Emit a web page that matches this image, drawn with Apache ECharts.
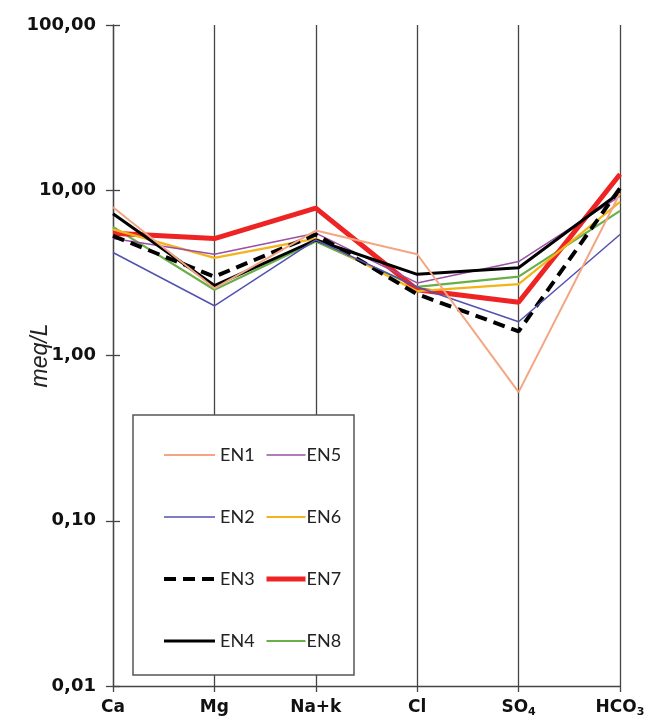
<!DOCTYPE html>
<html>
<head>
<meta charset="utf-8">
<script src="https://cdn.jsdelivr.net/npm/echarts@6/dist/echarts.min.js"></script>
<style>html,body{margin:0;padding:0;background:#fff;}#c{width:648px;height:724px;}</style>
</head>
<body>
<div id="c"></div>
<script>
var categories = ['Ca', 'Mg', 'Na+k', 'Cl', 'SO4', 'HCO3'];
var yTicks = [0.01, 0.1, 1, 10, 100];
var yTickLabels = ['0,01', '0,10', '1,00', '10,00', '100,00'];
var seriesNames = ['EN1', 'EN2', 'EN3', 'EN4', 'EN5', 'EN6', 'EN7', 'EN8'];
var EN1 = [7.9, 2.55, 5.7, 4.1, 0.6, 9.6];
var EN2 = [4.2, 2.0, 5.0, 2.6, 1.6, 5.4];
var EN3 = [5.3, 3.0, 5.4, 2.35, 1.4, 10.3];
var EN4 = [7.2, 2.65, 5.0, 3.1, 3.4, 9.7];
var EN5 = [5.1, 4.1, 5.5, 2.75, 3.7, 9.2];
var EN6 = [5.8, 3.9, 5.1, 2.45, 2.7, 8.5];
var EN7 = [5.5, 5.1, 7.8, 2.5, 2.1, 12.5];
var EN8 = [6.0, 2.5, 4.9, 2.6, 3.0, 7.5];
var values = [EN1, EN2, EN3, EN4, EN5, EN6, EN7, EN8];

var styles = [
  {color: '#F4A582', width: 2, type: 'solid'},
  {color: '#5252B0', width: 1.5, type: 'solid'},
  {color: '#000000', width: 4, type: [12, 7]},
  {color: '#000000', width: 3, type: 'solid'},
  {color: '#9B4FA6', width: 1.5, type: 'solid'},
  {color: '#F2B31B', width: 2.2, type: 'solid'},
  {color: '#EE2424', width: 5, type: 'solid'},
  {color: '#6AAE4A', width: 2.2, type: 'solid'}
];

var series = seriesNames.map(function (n, i) {
  return {
    name: n, type: 'line', data: values[i], symbol: 'none', showSymbol: false,
    z: 20 - i,
    lineStyle: {color: styles[i].color, width: styles[i].width, type: styles[i].type},
    itemStyle: {color: styles[i].color},
    emphasis: {disabled: true}, animation: false
  };
});

function legendItems(names) {
  return names.map(function (n) {
    var s = styles[seriesNames.indexOf(n)];
    return {name: n, lineStyle: {color: s.color, width: s.width, type: s.type}, itemStyle: {opacity: 0}};
  });
}

var legendText = {fontFamily: 'Lato', fontSize: 18, color: '#222', lineHeight: 16};
var chart = echarts.init(document.getElementById('c'));
chart.setOption({
  animation: false,
  backgroundColor: '#fff',
  grid: {left: 113, right: 28, top: 25, bottom: 38, containLabel: false, outerBoundsMode: 'none'},
  xAxis: {
    type: 'category', data: categories, boundaryGap: false,
    axisLine: {lineStyle: {color: '#444', width: 1.3}},
    axisTick: {show: true, length: 6, lineStyle: {color: '#444', width: 1.3}},
    splitLine: {show: true, lineStyle: {color: '#444', width: 1.3}},
    axisLabel: {
      margin: 12, interval: 0, hideOverlap: false,
      formatter: function (v) {
        var m = v.match(/^(.*?)(\d)$/);
        return m ? '{n|' + m[1] + '}{s|' + m[2] + '}' : '{n|' + v + '}';
      },
      rich: {
        n: {fontFamily: 'DejaVu Sans', fontWeight: 'bold', fontSize: 17, color: '#111', lineHeight: 20},
        s: {fontFamily: 'DejaVu Sans', fontWeight: 'bold', fontSize: 11, color: '#111', lineHeight: 11, verticalAlign: 'bottom'}
      }
    }
  },
  yAxis: [{
    type: 'log', logBase: 10, min: 0.01, max: 100,
    name: 'meq/L', nameLocation: 'middle', nameGap: 61, nameRotate: 90, nameMoveOverlap: false,
    nameTextStyle: {fontFamily: 'Liberation Sans', fontStyle: 'italic', fontSize: 23, color: '#222'},
    axisLine: {show: true, lineStyle: {color: '#444', width: 1.3}},
    axisTick: {show: true, length: 7, lineStyle: {color: '#444', width: 1.3}},
    splitLine: {show: false},
    axisLabel: {
      margin: 17, fontFamily: 'DejaVu Sans', fontWeight: 'bold', fontSize: 18, color: '#111',
      formatter: function (v) {
        for (var i = 0; i < yTicks.length; i++) {
          if (Math.abs(Math.log10(v) - Math.log10(yTicks[i])) < 1e-6) return yTickLabels[i];
        }
        return '';
      }
    }
  }, {
    type: 'log', logBase: 10, min: 0.01, max: 100, position: 'left',
    axisLine: {show: false},
    axisTick: {show: true, inside: true, length: 7, lineStyle: {color: '#444', width: 1.3}},
    axisLabel: {show: false}, splitLine: {show: false}
  }],
  legend: [{
    data: legendItems(seriesNames.slice(0, 4)), orient: 'vertical', left: 162, top: 446, padding: 0,
    itemWidth: 51, itemHeight: 16, itemGap: 44, textStyle: legendText, z: 10,
    itemStyle: {opacity: 0}, selectedMode: false
  }, {
    data: legendItems(seriesNames.slice(4)), orient: 'vertical', left: 264, top: 446, padding: 0,
    itemWidth: 39, itemHeight: 16, itemGap: 44, textStyle: Object.assign({padding: [0, 0, 0, -4]}, legendText), z: 10,
    itemStyle: {opacity: 0}, selectedMode: false
  }],
  graphic: [{
    type: 'rect', z: 5, silent: true,
    shape: {x: 133, y: 415, width: 221, height: 260},
    style: {fill: '#fff', stroke: '#555', lineWidth: 1.5}
  }],
  series: series
});
</script>
</body>
</html>
